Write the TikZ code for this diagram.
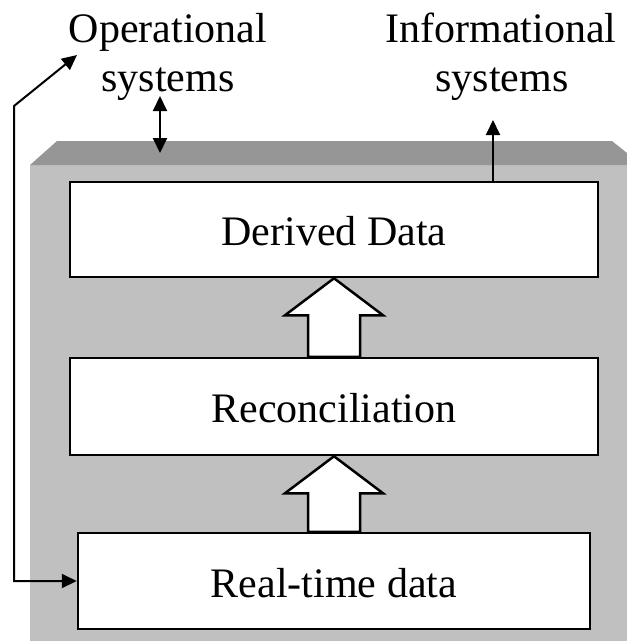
\documentclass[tikz,border=0pt]{standalone}
\usepackage{fontspec}
\setmainfont{Liberation Serif}
\usetikzlibrary{arrows.meta,calc}
\definecolor{panel}{HTML}{C0C0C0}
\definecolor{paneltop}{HTML}{969696}
\begin{document}
\begin{tikzpicture}[x=1pt,y=-1pt,
  >={Triangle[length=15pt,width=14pt]},
  box/.style={draw=black,line width=2.5pt,fill=white,font=\fontsize{42}{48}\selectfont,inner sep=0pt,text height=32pt,text depth=0pt},
  lbl/.style={font=\fontsize{42}{48}\selectfont,inner sep=0pt,anchor=base},
  conn/.style={line width=2pt,line join=miter},
  blockarrow/.style={draw=black,line width=2.5pt,fill=white,line join=miter}]
\useasboundingbox (0,0) rectangle (627,641);
% panel
\fill[panel] (30,165) rectangle (627,641);
\fill[paneltop] (30,165) -- (57,141) -- (612,141) -- (627,153) -- (627,165) -- cycle;
% boxes
\node[box,minimum width=528pt,minimum height=95pt] (derived) at (334,229.5) {Derived Data};
\node[box,minimum width=528pt,minimum height=97pt] (recon) at (334,406.5) {Reconciliation};
\node[box,minimum width=512pt,minimum height=96pt] (realtime) at (334,581) {Real-time data};
% block arrows
\draw[blockarrow] (derived.south) -- ($(derived.south)+(49,37)$) -- ($(derived.south)+(26,37)$)
  -- ($(recon.north)+(26,0)$) -- ($(recon.north)+(-26,0)$) -- ($(derived.south)+(-26,37)$)
  -- ($(derived.south)+(-49,37)$) -- cycle;
\draw[blockarrow] (recon.south) -- ($(recon.south)+(49,37)$) -- ($(recon.south)+(26,37)$)
  -- ($(realtime.north)+(26,0)$) -- ($(realtime.north)+(-26,0)$) -- ($(recon.south)+(-26,37)$)
  -- ($(recon.south)+(-49,37)$) -- cycle;
% labels
\node[lbl] (op1) at (168,42) {Operational};
\node[lbl] (op2) at (168,91) {systems};
\node[lbl] (in1) at (501,42) {Informational};
\node[lbl] (in2) at (502,91) {systems};
% connectors
\coordinate (dtop) at (160,96);
\coordinate (dbot) at (160,153);
\draw[conn,<->] (dtop) -- (dbot);
\coordinate (infotop) at (493,120);
\draw[conn,->] (infotop |- derived.north) -- (infotop);
\coordinate (optip) at (77,55);
\coordinate (lc2) at (14,106);
\coordinate (lc1) at (14,581);
\draw[conn,<->] (optip) -- (lc2) -- (lc1) -- (realtime.west);
\end{tikzpicture}
\end{document}
